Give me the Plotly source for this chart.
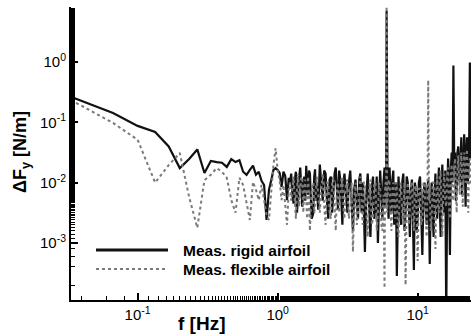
import numpy as np
import plotly.graph_objects as go

# Frequencies [Hz], low range (1/30 Hz resolution)
freq_low = [0.0333, 0.0667, 0.1, 0.1333, 0.1667, 0.2, 0.2333, 0.2667, 0.3, 0.3333,
            0.3667, 0.4, 0.4333, 0.4667, 0.5, 0.5333, 0.5667, 0.6, 0.6333, 0.6667,
            0.7, 0.7333, 0.7667, 0.8, 0.8333, 0.8667, 0.9, 0.9333, 0.9667, 1.0,
            1.0333, 1.0667, 1.1, 1.1333, 1.1667, 1.2]

# Frequencies [Hz], high range (dense band)
freq_high = [1.225, 1.25, 1.275, 1.3, 1.325, 1.35, 1.375, 1.4, 1.425, 1.45,
             1.475, 1.5, 1.525, 1.55, 1.575, 1.6, 1.625, 1.65, 1.675, 1.7,
             1.75, 1.8, 1.825, 1.85, 1.875, 1.9, 1.95, 2.0, 2.05, 2.1,
             2.15, 2.2, 2.25, 2.3, 2.35, 2.4, 2.45, 2.5, 2.55, 2.6,
             2.65, 2.7, 2.75, 2.8, 2.85, 2.9, 2.95, 3.0, 3.075, 3.15,
             3.225, 3.3, 3.375, 3.45, 3.525, 3.6, 3.675, 3.75, 3.825, 3.9,
             3.975, 4.05, 4.125, 4.2, 4.3, 4.4, 4.5, 4.6, 4.7, 4.8,
             4.9, 5.0, 5.1, 5.2, 5.3, 5.4, 5.5, 5.6, 5.7, 5.8,
             5.85, 5.9, 5.95, 6.0, 6.05, 6.1, 6.2, 6.3, 6.4, 6.5,
             6.6, 6.7, 6.8, 6.9, 7.0, 7.1, 7.2, 7.3, 7.45, 7.6,
             7.75, 7.9, 8.05, 8.2, 8.35, 8.5, 8.65, 8.8, 8.95, 9.1,
             9.25, 9.4, 9.55, 9.7, 9.85, 10.0, 10.2, 10.4, 10.6, 10.8,
             11.0, 11.2, 11.4, 11.6, 11.75, 11.9, 12.05, 12.2, 12.4, 12.6,
             12.8, 13.0, 13.2, 13.4, 13.6, 13.8, 14.0, 14.2, 14.4, 14.6,
             14.8, 15.0, 15.25, 15.5, 15.75, 16.0, 16.25, 16.5, 16.75, 17.0,
             17.25, 17.5, 17.75, 18.0, 18.25, 18.5, 18.75, 19.0, 19.25, 19.5,
             19.75, 20.0, 20.25, 20.5, 20.75, 21.0, 21.25, 21.5, 21.75, 22.0,
             22.25, 22.5, 22.75, 23.0, 23.3, 23.6, 23.9, 24.2]

# log10 of dF_y [N/m], rigid airfoil
rigid_log_low = [-0.575, -0.846, -1.06, -1.16, -1.40, -1.76, -1.61, -1.45, -1.84, -1.64,
                 -1.66, -1.67, -1.74, -1.61, -1.66, -1.63, -1.82, -1.87, -1.79, -1.72,
                 -1.87, -1.82, -1.97, -2.04, -2.62, -2.12, -1.96, -1.79, -1.76, -1.79,
                 -1.84, -2.07, -1.82, -1.89, -2.29, -1.92]
rigid_log_high = [-2.0, -1.85, -2.2, -2.35, -1.95, -1.82, -2.5, -2.1, -1.9, -1.75,
                  -2.15, -2.4, -2.0, -1.9, -2.3, -1.72, -2.05, -2.2, -1.8, -1.85,
                  -2.6, -2.5, -1.9, -1.78, -2.3, -2.05, -2.45, -1.7, -2.0, -2.3,
                  -1.8, -1.85, -2.3, -2.6, -1.95, -1.9, -2.5, -2.2, -1.85, -1.75,
                  -2.2, -2.45, -1.8, -1.95, -2.3, -2.7, -2.0, -1.85, -2.2, -2.5,
                  -2.0, -1.8, -2.3, -2.8, -2.1, -1.95, -2.35, -2.6, -1.95, -1.85,
                  -2.5, -2.0, -2.4, -3.15, -2.2, -1.85, -2.4, -2.9, -2.1, -1.9,
                  -2.6, -2.4, -1.9, -3.0, -2.3, -1.8, -2.2, -2.6, -2.0, -1.75,
                  -2.4, -2.3, -2.1, 0.85, -2.0, -2.2, -2.6, -1.75, -2.2, -2.5,
                  -1.95, -1.8, -2.7, -2.4, -2.0, -3.55, -2.2, -1.9, -2.4, -2.7,
                  -2.0, -1.85, -2.8, -2.5, -1.9, -2.0, -2.4, -2.9, -2.1, -1.95,
                  -2.6, -3.45, -2.0, -2.1, -2.8, -2.6, -2.0, -1.9, -2.5, -3.2,
                  -2.2, -2.0, -2.4, -2.7, -2.1, -1.95, -2.5, -3.35, -2.3, -2.0,
                  -2.5, -2.9, -2.2, -1.85, -2.3, -2.6, -2.0, -1.75, -2.4, -2.9,
                  -2.1, -1.7, -2.2, -2.5, -1.8, -4.2, -2.2, -1.6, -2.0, -3.2,
                  -1.8, -1.5, -2.0, -0.06, -1.7, -1.5, -2.3, -2.1, -1.5, -1.4,
                  -1.9, -2.0, -1.6, -1.25, -2.2, -1.9, -1.4, -1.2, -1.8, -2.4,
                  -1.5, -1.25, -2.0, -1.9, -1.4, -0.01, -1.6, -1.3]

# log10 of dF_y [N/m], flexible airfoil
flexible_log_low = [-0.63, -1.01, -1.29, -2.0, -1.71, -1.51, -2.24, -2.75, -1.96, -1.87,
                    -1.76, -1.82, -1.92, -2.29, -2.50, -1.92, -2.04, -2.37, -2.62, -1.99,
                    -2.12, -2.29, -2.04, -2.29, -2.54, -2.62, -2.12, -1.71, -1.43, -1.79,
                    -1.96, -2.29, -2.04, -2.37, -2.70, -2.12]
flexible_log_high = [-2.0, -2.3, -2.05, -1.9, -2.3, -2.6, -2.1, -1.85, -2.4, -2.2,
                     -1.9, -1.95, -2.5, -2.1, -1.95, -2.3, -2.6, -1.9, -2.2, -2.8,
                     -2.1, -2.0, -2.5, -2.4, -2.0, -1.9, -2.2, -2.5, -2.1, -1.85,
                     -2.4, -2.7, -2.0, -2.0, -2.5, -2.6, -2.0, -1.9, -2.4, -2.8,
                     -2.1, -2.0, -2.5, -2.3, -1.95, -1.9, -2.4, -2.6, -2.0, -1.95,
                     -2.6, -2.4, -2.0, -3.15, -2.3, -2.0, -2.7, -2.5, -2.1, -1.9,
                     -2.3, -2.7, -2.0, -2.0, -2.5, -2.9, -2.1, -1.95, -2.7, -2.6,
                     -2.0, -2.0, -2.8, -2.5, -2.0, -2.1, -2.7, -2.8, -2.2, -3.75,
                     -2.1, -2.0, -2.4, 0.92, -2.5, -2.3, -1.95, -2.0, -2.6, -2.8,
                     -2.1, -2.0, -2.4, -2.6, -2.0, -2.1, -2.8, -2.9, -2.1, -2.0,
                     -2.5, -2.7, -2.0, -3.7, -2.3, -2.0, -2.7, -2.5, -2.0, -2.0,
                     -2.5, -2.8, -2.1, -2.05, -2.6, -3.3, -2.1, -2.1, -2.7, -2.6,
                     -2.0, -2.0, -2.6, -2.9, -2.2, -0.3, -2.3, -2.1, -2.8, -2.6,
                     -2.0, -2.0, -2.5, -3.1, -2.1, -1.9, -2.4, -2.5, -1.9, -1.8,
                     -2.5, -2.9, -2.1, -1.85, -2.3, -2.4, -1.9, -1.75, -2.4, -2.6,
                     -1.9, -1.7, -2.2, -2.3, -1.75, -1.6, -2.1, -2.5, -1.8, -1.55,
                     -2.0, -2.2, -1.7, -1.5, -2.0, -2.4, -1.7, -1.5, -1.9, -2.0,
                     -1.6, -1.45, -2.1, -2.5, -1.7, -1.6, -2.0, -2.0]

freq = freq_low + freq_high
rigid = 10.0 ** np.array(rigid_log_low + rigid_log_high)
flexible = 10.0 ** np.array(flexible_log_low + flexible_log_high)

x_ticks = [0.1, 1, 10]
x_ticktext = ["10<sup>-1</sup>", "10<sup>0</sup>", "10<sup>1</sup>"]
y_ticks = [1e-3, 1e-2, 1e-1, 1]
y_ticktext = ["10<sup>-3</sup>", "10<sup>-2</sup>", "10<sup>-1</sup>", "10<sup>0</sup>"]

legend_names = ["Meas. rigid airfoil", "Meas. flexible airfoil"]

FONT = "Liberation Sans, Arial, Helvetica, sans-serif"

fig = go.Figure()
fig.add_trace(go.Scatter(x=freq, y=rigid, mode="lines", name=legend_names[0],
                         line=dict(color="#111111", width=2.2), showlegend=False))
fig.add_trace(go.Scatter(x=freq, y=flexible, mode="lines", name=legend_names[1],
                         line=dict(color="#7a7a7a", width=2, dash="dot"), showlegend=False))

W, H = 471, 336
L, R, T, B = 71, 0, 7, 36

fig.update_layout(
    width=W, height=H,
    margin=dict(l=L, r=R, t=T, b=B, pad=0),
    paper_bgcolor="white", plot_bgcolor="white",
    font=dict(family=FONT, color="black", size=15),
    showlegend=False,
)

fig.update_xaxes(
    type="log", range=[-1.476, 1.381],
    showgrid=False, zeroline=False,
    showline=True, linecolor="black", linewidth=2, mirror=False,
    ticks="inside", ticklen=7, tickwidth=1.5, tickcolor="black",
    tickvals=x_ticks, ticktext=x_ticktext,
    tickfont=dict(family=FONT, size=15, color="black"),
    minor=dict(ticks="inside", ticklen=4, tickwidth=1, tickcolor="black", showgrid=False),
)
fig.update_yaxes(
    type="log", range=[-3.947, 0.912],
    showgrid=False, zeroline=False,
    showline=True, linecolor="black", linewidth=2, mirror=False,
    ticks="inside", ticklen=7, tickwidth=1.5, tickcolor="black",
    tickvals=y_ticks, ticktext=y_ticktext,
    tickfont=dict(family=FONT, size=15, color="black"),
    minor=dict(ticks="inside", ticklen=4, tickwidth=1, tickcolor="black", showgrid=False),
)

pw, ph = W - L - R, H - T - B

def px(x):
    return (x - L) / pw

def py(y):
    return (H - B - y) / ph

# axis titles
fig.add_annotation(text="<b>f [Hz]</b>", x=px(201), y=py(324), xref="paper", yref="paper",
                   showarrow=False, xanchor="center", yanchor="middle",
                   font=dict(family=FONT, size=19, color="black"))
fig.add_annotation(text="<b>\u0394F<sub>y</sub> [N/m]</b>", x=px(21), y=py(152),
                   xref="paper", yref="paper", textangle=-90,
                   showarrow=False, xanchor="center", yanchor="middle",
                   font=dict(family=FONT, size=18, color="black"))

# legend (drawn manually)
fig.add_shape(type="line", xref="paper", yref="paper", x0=px(96), x1=px(168),
              y0=py(250), y1=py(250), line=dict(color="#111111", width=3))
fig.add_shape(type="line", xref="paper", yref="paper", x0=px(96), x1=px(168),
              y0=py(269), y1=py(269), line=dict(color="#7a7a7a", width=2, dash="dot"))
fig.add_annotation(text="<b>" + legend_names[0] + "</b>", x=px(181), y=py(250),
                   xref="paper", yref="paper", showarrow=False,
                   xanchor="left", yanchor="middle",
                   font=dict(family=FONT, size=15.5, color="black"))
fig.add_annotation(text="<b>" + legend_names[1] + "</b>", x=px(181), y=py(269),
                   xref="paper", yref="paper", showarrow=False,
                   xanchor="left", yanchor="middle",
                   font=dict(family=FONT, size=15.5, color="black"))

fig.write_html("out.html")
